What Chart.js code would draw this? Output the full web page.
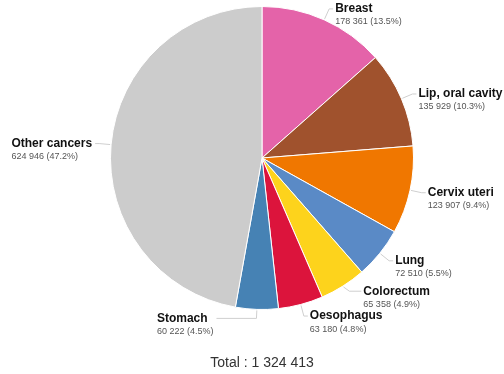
<!DOCTYPE html>
<html>
<head>
<meta charset="utf-8">
<script src="https://cdn.jsdelivr.net/npm/chart.js@4/dist/chart.umd.min.js"></script>
<style>
  html, body { margin: 0; padding: 0; background: #fff; }
  #wrap { width: 504px; height: 374px; position: relative; }
</style>
</head>
<body>
<div id="wrap"><canvas id="cancer-pie"></canvas></div>
<script>
var categories = ['Breast', 'Lip, oral cavity', 'Cervix uteri', 'Lung', 'Colorectum', 'Oesophagus', 'Stomach', 'Other cancers'];
var cases = [178361, 135929, 123907, 72510, 65358, 63180, 60222, 624946];
var sliceColors = ['#e463a9', '#a0522d', '#f07700', '#5a8ac6', '#fdd31c', '#dc143c', '#4682b4', '#cccccc'];
var totalLabel = 'Total : 1 324 413';

var total = cases.reduce(function (a, b) { return a + b; }, 0);

function fmt(n) {
    return String(n).replace(/\B(?=(\d{3})+(?!\d))/g, ' ');
}

// small hand tweaks so labels sit where the original puts them
var nudge = {
    'Colorectum': { dx: 8, dy: -5 },
    'Stomach': { dy: -3, leg: 40 }
};

var outsideLabels = {
    id: 'outsideLabels',
    afterDatasetsDraw: function (chart) {
        var ctx = chart.ctx;
        var meta = chart.getDatasetMeta(0);
        var boldFont = 'bold 12px "Liberation Sans", Arial, sans-serif';
        var smallFont = '9px "Liberation Sans", Arial, sans-serif';
        ctx.save();
        meta.data.forEach(function (arc, i) {
            var mid = (arc.startAngle + arc.endAngle) / 2;
            var cos = Math.cos(mid), sin = Math.sin(mid);
            var r = arc.outerRadius;
            var sx = arc.x + cos * (r + 1), sy = arc.y + sin * (r + 1);
            var ex = arc.x + cos * (r + 12), ey = arc.y + sin * (r + 12);
            var n = nudge[categories[i]] || {};
            var right = cos >= 0;
            var ly = ey + (n.dy || 0);
            var leg = (n.leg || 4) + (n.dx || 0);
            var hx = right ? ex + leg : ex - leg;

            ctx.strokeStyle = '#cfcfcf';
            ctx.lineWidth = 1;
            ctx.beginPath();
            ctx.moveTo(sx, sy);
            ctx.lineTo(ex, ly);
            ctx.lineTo(hx, ly);
            ctx.stroke();

            var pct = (cases[i] / total * 100).toFixed(1);
            var valueText = fmt(cases[i]) + ' (' + pct + '%)';

            ctx.font = boldFont;
            var w1 = ctx.measureText(categories[i]).width;
            ctx.font = smallFont;
            var w2 = ctx.measureText(valueText).width;
            var tx = right ? hx + 2 : hx - 3 - Math.max(w1, w2);

            ctx.textAlign = 'left';
            ctx.textBaseline = 'middle';
            ctx.fillStyle = '#111';
            ctx.font = boldFont;
            ctx.fillText(categories[i], tx, ly);
            ctx.fillStyle = '#555';
            ctx.font = smallFont;
            ctx.fillText(valueText, tx, ly + 13);
        });

        ctx.textAlign = 'center';
        ctx.textBaseline = 'middle';
        ctx.fillStyle = '#333';
        ctx.font = '14px "Liberation Sans", Arial, sans-serif';
        ctx.fillText(totalLabel, meta.data[0].x, 363);
        ctx.restore();
    }
};

var ctx = document.getElementById('cancer-pie').getContext('2d');
new Chart(ctx, {
    type: 'pie',
    data: {
        labels: categories,
        datasets: [{
            data: cases,
            backgroundColor: sliceColors,
            borderColor: '#ffffff',
            borderWidth: 1
        }]
    },
    options: {
        responsive: true,
        maintainAspectRatio: false,
        animation: false,
        layout: {
            padding: { top: 6, bottom: 64, left: 110, right: 90 }
        },
        plugins: {
            legend: { display: false },
            tooltip: { enabled: false }
        }
    },
    plugins: [outsideLabels]
});
</script>
</body>
</html>
